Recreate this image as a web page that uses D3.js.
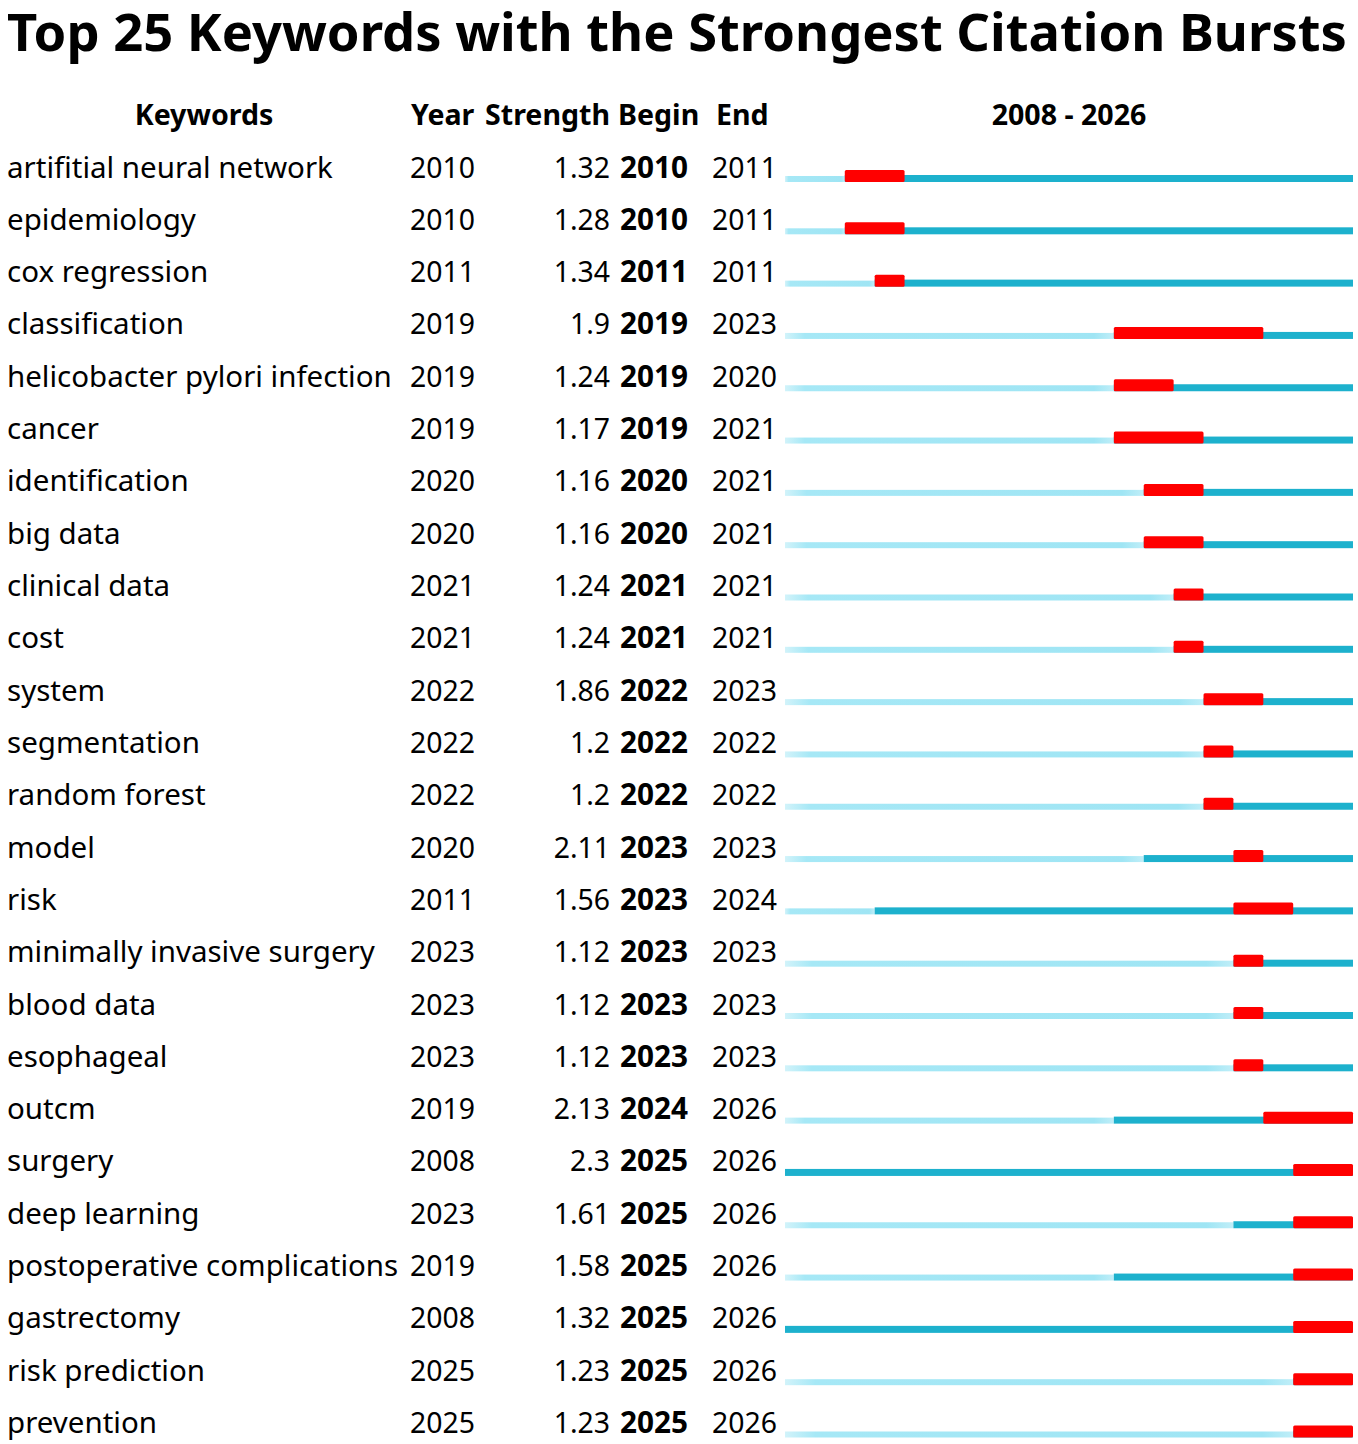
<!DOCTYPE html>
<html><head><meta charset="utf-8">
<script src="https://cdn.jsdelivr.net/npm/d3@7"></script>
<style>body{margin:0;background:#fff}svg{display:block}</style>
</head><body>
<svg id="chart" width="1358" height="1444"></svg>
<script>
const title = "Top 25 Keywords with the Strongest Citation Bursts";
const headers = ["Keywords", "Year", "Strength", "Begin", "End"];
const rangeLabel = "2008 - 2026";
const startYear = 2008, endYear = 2026;

const keywords = ["artifitial neural network","epidemiology","cox regression","classification","helicobacter pylori infection","cancer","identification","big data","clinical data","cost","system","segmentation","random forest","model","risk","minimally invasive surgery","blood data","esophageal","outcm","surgery","deep learning","postoperative complications","gastrectomy","risk prediction","prevention"];
const years     = [2010,2010,2011,2019,2019,2019,2020,2020,2021,2021,2022,2022,2022,2020,2011,2023,2023,2023,2019,2008,2023,2019,2008,2025,2025];
const strengths = ["1.32","1.28","1.34","1.9","1.24","1.17","1.16","1.16","1.24","1.24","1.86","1.2","1.2","2.11","1.56","1.12","1.12","1.12","2.13","2.3","1.61","1.58","1.32","1.23","1.23"];
const begins    = [2010,2010,2011,2019,2019,2019,2020,2020,2021,2021,2022,2022,2022,2023,2023,2023,2023,2023,2024,2025,2025,2025,2025,2025,2025];
const ends      = [2011,2011,2011,2023,2020,2021,2021,2021,2021,2021,2023,2022,2022,2023,2024,2023,2023,2023,2026,2026,2026,2026,2026,2026,2026];

const svg = d3.select("#chart");
const FONT = "'Noto Sans', 'Open Sans', sans-serif";
const rows = keywords.map((k,i)=>({k, year:years[i], s:strengths[i], b:begins[i], e:ends[i], i}));

const x = d3.scaleLinear().domain([startYear, endYear + 1]).range([785, 1353]);
const y = d3.scaleLinear().domain([0, keywords.length - 1]).range([177.5, 1433]);

function sizeFor(str, weight, target) {
  const t = svg.append("text").attr("font-family", FONT).attr("font-weight", weight)
    .attr("font-size", 100).text(str);
  const w = t.node().getComputedTextLength();
  t.remove();
  return 100 * target / w;
}
const titleSize = sizeFor(title, "bold", 1340);
const kwSize = sizeFor("artifitial neural network", "normal", 326);
const numSize = sizeFor("2010", "normal", 65);
const boldNumSize = sizeFor("2010", "bold", 68);
const headSize = sizeFor("Strength", "bold", 125);

const defs = svg.append("defs");
const lg = defs.append("linearGradient").attr("id", "lightGrad").attr("x1", 0).attr("x2", 1).attr("y1", 0).attr("y2", 0);
lg.append("stop").attr("offset", 0).attr("stop-color", "#d2f3fa");
lg.append("stop").attr("offset", 0.06).attr("stop-color", "#a6e8f6");
lg.append("stop").attr("offset", 0.94).attr("stop-color", "#9fe5f4");
lg.append("stop").attr("offset", 1).attr("stop-color", "#c0eef8");

svg.append("text").attr("x", 7).attr("y", 51)
  .attr("font-family", FONT).attr("font-weight", "bold").attr("font-size", titleSize)
  .attr("fill", "#000").text(title);

const hY = 125;
const hdr = svg.append("g").attr("font-family", FONT).attr("font-weight", "bold")
  .attr("font-size", headSize).attr("fill", "#000");
hdr.append("text").attr("x", 204).attr("y", hY).attr("text-anchor", "middle").text(headers[0]);
hdr.append("text").attr("x", 411).attr("y", hY).text(headers[1]);
hdr.append("text").attr("x", 485).attr("y", hY).text(headers[2]);
hdr.append("text").attr("x", 618).attr("y", hY).text(headers[3]);
hdr.append("text").attr("x", 716).attr("y", hY).text(headers[4]);
hdr.append("text").attr("x", (x(startYear) + x(endYear + 1)) / 2).attr("y", hY)
  .attr("text-anchor", "middle").text(rangeLabel);

const g = svg.append("g").selectAll("g").data(rows).join("g")
  .attr("transform", d => `translate(0,${y(d.i)})`);

g.append("text").attr("x", 7).attr("font-family", FONT).attr("font-size", kwSize).attr("fill", "#000").text(d => d.k);
g.append("text").attr("x", 410).attr("font-family", FONT).attr("font-size", numSize).attr("fill", "#000").text(d => d.year);
g.append("text").attr("x", 610).attr("text-anchor", "end").attr("font-family", FONT).attr("font-size", numSize).attr("fill", "#000").text(d => d.s);
g.append("text").attr("x", 620).attr("font-family", FONT).attr("font-weight", "bold").attr("font-size", boldNumSize).attr("fill", "#000").text(d => d.b);
g.append("text").attr("x", 712).attr("font-family", FONT).attr("font-size", numSize).attr("fill", "#000").text(d => d.e);

const bottom = 4.5;
g.filter(d => d.year > startYear).append("rect")
  .attr("x", x(startYear)).attr("width", d => x(d.year) - x(startYear))
  .attr("y", bottom - 6).attr("height", 6).attr("fill", "url(#lightGrad)");
g.append("rect")
  .attr("x", d => x(d.year)).attr("width", d => x(endYear + 1) - x(d.year))
  .attr("y", bottom - 7).attr("height", 7).attr("fill", "#1db1cd");
g.append("rect")
  .attr("x", d => x(d.b)).attr("width", d => x(d.e + 1) - x(d.b))
  .attr("y", bottom - 12).attr("height", 12).attr("rx", 1.5).attr("fill", "#ff0000");
</script>
</body></html>
